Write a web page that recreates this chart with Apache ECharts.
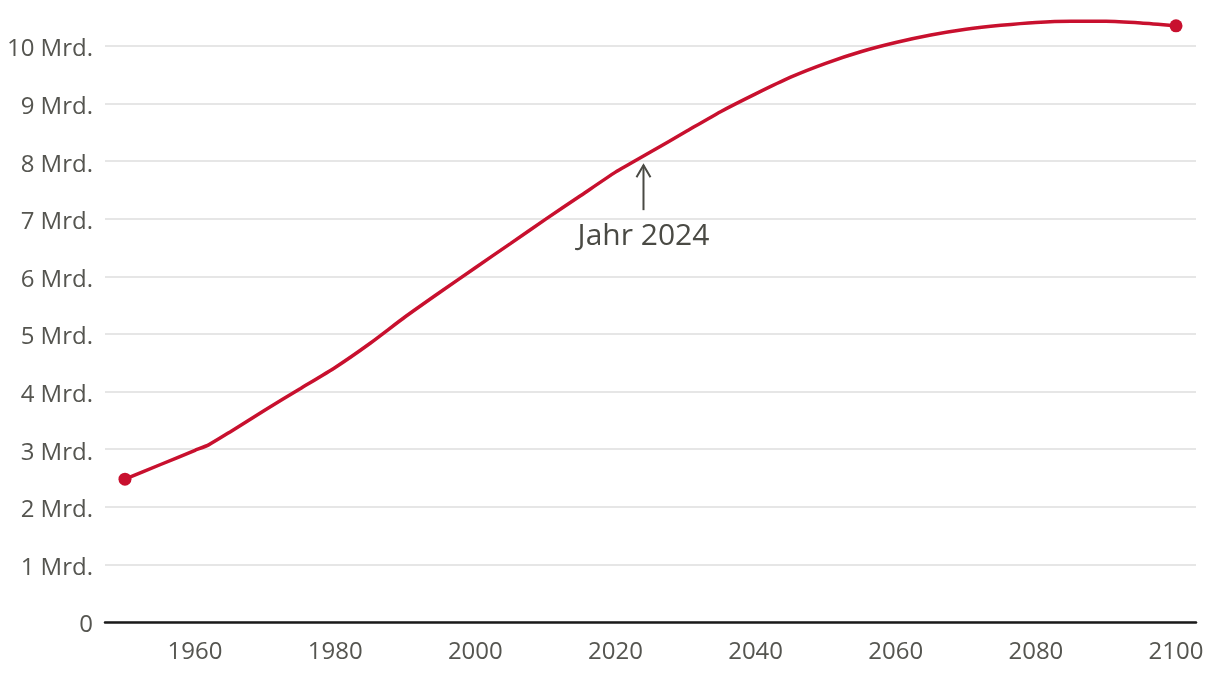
<!DOCTYPE html>
<html><head><meta charset="utf-8">
<script src="https://cdn.jsdelivr.net/npm/echarts@6/dist/echarts.min.js"></script>
<style>html,body{margin:0;padding:0;background:#fff}#c{width:1220px;height:678px}</style>
</head><body><div id="c"></div>
<script>
const years = [1950,1955,1960,1962,1965,1970,1975,1980,1985,1990,1995,2000,2005,2010,2015,2020,2022,2025,2030,2035,2040,2045,2050,2055,2060,2065,2070,2075,2080,2085,2090,2095,2100];
const population = [2.48,2.73,2.98,3.08,3.30,3.68,4.05,4.42,4.84,5.30,5.73,6.15,6.57,6.99,7.40,7.81,7.95,8.16,8.51,8.86,9.17,9.46,9.70,9.90,10.06,10.19,10.29,10.36,10.41,10.43,10.43,10.40,10.35];
const xTicks = [1960,1980,2000,2020,2040,2060,2080,2100];
const yTicks = [0,1,2,3,4,5,6,7,8,9,10];
const annotationYear = 2024;
const annotationText = 'Jahr 2024';

const RED = '#c8102e';
const FONT = '"Open Sans", "Noto Sans", sans-serif';
const chart = echarts.init(document.getElementById('c'), null, {renderer: 'canvas'});
const lineData = years.map((y, i) => [y, population[i]]);
const endPoints = [lineData[0], lineData[lineData.length - 1]];

chart.setOption({
  animation: false,
  grid: {left: 105, right: 24, top: 46, bottom: 56, containLabel: false},
  xAxis: {
    type: 'value', min: 1947.15, max: 2102.85,
    axisLine: {show: true, lineStyle: {color: '#1a1a1a', width: 2.5}},
    axisTick: {show: false},
    splitLine: {show: false},
    axisLabel: {customValues: xTicks, color: '#555550', fontSize: 24, fontFamily: FONT, margin: 18,
      formatter: v => String(v)}
  },
  yAxis: {
    type: 'value', min: yTicks[0], max: yTicks[yTicks.length - 1], interval: 1,
    axisLine: {show: false}, axisTick: {show: false},
    splitLine: {lineStyle: {color: '#e6e6e6', width: 2}},
    axisLabel: {color: '#555550', fontSize: 24, fontFamily: FONT, margin: 12,
      formatter: v => '{a|' + (v === 0 ? '0' : v + ' Mrd.') + '}',
      rich: {a: {color: '#555550', fontSize: 24, fontFamily: FONT, padding: [7, 0, 0, 0]}}}
  },
  series: [
    {type: 'line', data: lineData, smooth: 0.2, clip: false, showSymbol: false,
     lineStyle: {color: RED, width: 3.5}, z: 3},
    {type: 'scatter', data: endPoints, symbolSize: 13, clip: false,
     itemStyle: {color: RED, opacity: 1}, z: 4}
  ]
});

const tip = chart.convertToPixel({gridIndex: 0}, [annotationYear, 7.93]);
const base = chart.convertToPixel({gridIndex: 0}, [annotationYear, 7.15]);
const txt = chart.convertToPixel({gridIndex: 0}, [annotationYear, 6.7]);
chart.setOption({
  graphic: [
    {type: 'line', shape: {x1: base[0], y1: base[1], x2: tip[0], y2: tip[1]},
     style: {stroke: '#4a4a44', lineWidth: 2}},
    {type: 'polyline', shape: {points: [[tip[0]-7, tip[1]+12], [tip[0], tip[1]], [tip[0]+7, tip[1]+12]]},
     style: {stroke: '#4a4a44', lineWidth: 2, fill: null}},
    {type: 'text', x: txt[0], y: txt[1],
     style: {text: annotationText, fill: '#4a4a44', fontSize: 30, fontFamily: FONT,
             align: 'center', verticalAlign: 'middle'}}
  ]
});
</script></body></html>
